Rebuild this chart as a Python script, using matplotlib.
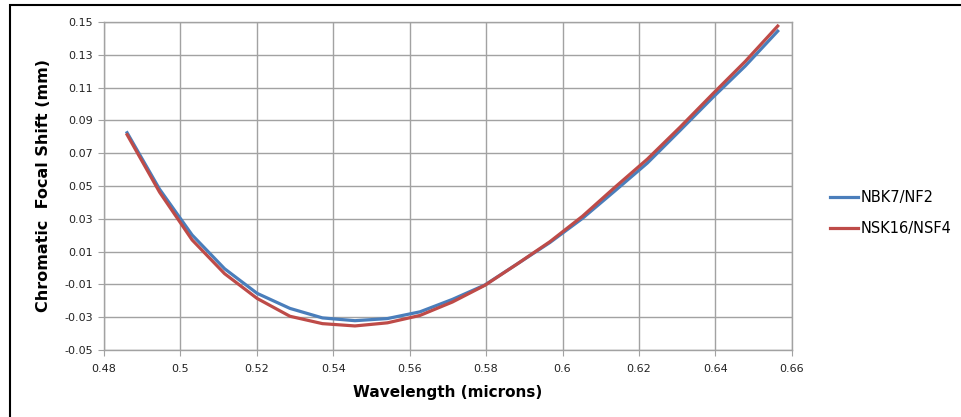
import matplotlib
matplotlib.use("Agg")
import matplotlib.pyplot as plt
from matplotlib.patches import Rectangle

# wavelength samples (microns)
wavelength = [0.4861, 0.4946, 0.5031, 0.5116, 0.5201, 0.5287, 0.5372,
              0.5457, 0.5542, 0.5627, 0.5712, 0.5797, 0.5882, 0.5967,
              0.6052, 0.6137, 0.6222, 0.6308, 0.6393, 0.6478, 0.6563]

# chromatic focal shift (mm)
nbk7_nf2 = [0.0825, 0.0480, 0.0201, -0.0005, -0.0155, -0.0247, -0.0305,
            -0.0322, -0.0309, -0.0268, -0.0192, -0.0104, 0.0025, 0.0155,
            0.0302, 0.0470, 0.0640, 0.0840, 0.1040, 0.1232, 0.1445]
nsk16_nsf4 = [0.0813, 0.0462, 0.0171, -0.0035, -0.0186, -0.0295, -0.0340,
              -0.0354, -0.0335, -0.0290, -0.0208, -0.0106, 0.0025, 0.0160,
              0.0315, 0.0492, 0.0664, 0.0860, 0.1062, 0.1260, 0.1476]

labels = ["NBK7/NF2", "NSK16/NSF4"]
x_ticks = [0.48, 0.5, 0.52, 0.54, 0.56, 0.58, 0.6, 0.62, 0.64, 0.66]
y_ticks = [-0.05, -0.03, -0.01, 0.01, 0.03, 0.05, 0.07, 0.09, 0.11, 0.13, 0.15]

grid_col = "#a2a2a2"

fig = plt.figure(figsize=(9.61, 4.17), dpi=100)
ax = fig.add_axes([0.108, 0.161, 0.716, 0.786])

ax.plot(wavelength, nbk7_nf2, color="#4a7ebb", lw=2.3, label=labels[0])
ax.plot(wavelength, nsk16_nsf4, color="#be4b48", lw=2.3, label=labels[1])

ax.set_xlim(0.48, 0.66)
ax.set_ylim(-0.05, 0.15)
ax.set_xticks(x_ticks)
ax.set_yticks(y_ticks)
ax.set_xticklabels([f"{v:g}" for v in x_ticks])
ax.set_yticklabels([f"{v:.2f}" for v in y_ticks])
ax.grid(True, color=grid_col, lw=1.0)
ax.set_axisbelow(True)
for s in ax.spines.values():
    s.set_color(grid_col)
    s.set_linewidth(1.0)
ax.tick_params(direction="out", length=4, color=grid_col, labelsize=8,
               labelcolor="#222222")
ax.tick_params(axis="x", pad=6)

ax.set_xlabel("Wavelength (microns)", fontsize=11, fontweight="bold",
              labelpad=8)
ax.set_ylabel("Chromatic  Focal Shift (mm)", fontsize=11.5, fontweight="bold",
              labelpad=10)

fig.legend(loc="center left", bbox_to_anchor=(0.85, 0.489), frameon=False,
           fontsize=10.5, handlelength=1.9, handletextpad=0.2,
           labelspacing=1.1)

# outer chart frame
fig.patches.append(Rectangle((10 / 961, -0.1), 1.2, 1.1 - 5 / 417,
                             transform=fig.transFigure, fill=False,
                             edgecolor="black", lw=1.5))

fig.savefig("out.png", dpi=100)
